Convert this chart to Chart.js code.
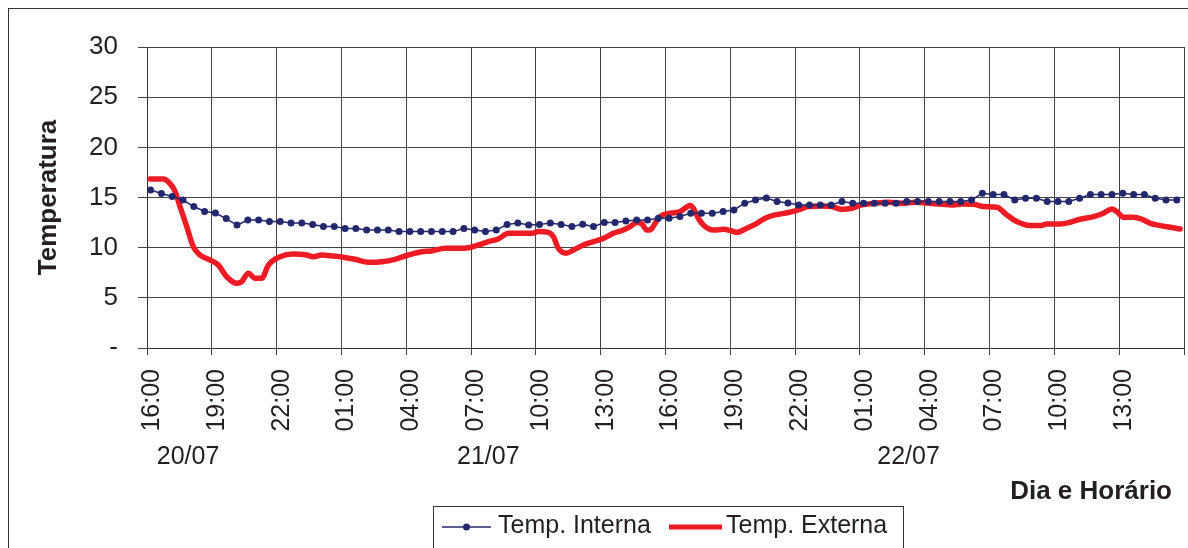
<!DOCTYPE html>
<html>
<head>
<meta charset="utf-8">
<script src="https://cdn.jsdelivr.net/npm/chart.js@4/dist/chart.umd.min.js"></script>
<style>
  html, body { margin: 0; padding: 0; background: #fff; }
  #wrap { width: 1188px; height: 548px; position: relative; }
</style>
</head>
<body>
<div id="wrap"><canvas id="chart"></canvas></div>
<script>
// Temperatura interna x externa, 20/07 16:00 ate 22/07 16:00 (horas desde o inicio)

var xTickLabels = ["16:00", "19:00", "22:00", "01:00", "04:00", "07:00", "10:00", "13:00",
  "16:00", "19:00", "22:00", "01:00", "04:00", "07:00", "10:00", "13:00", ""];
var dayLabels = ["20/07", "21/07", "22/07"];
var dayLabelHours = [1.9, 15.8, 35.25];
var yTickLabels = ["-", "5", "10", "15", "20", "25", "30"];

// leitura a cada 30 min, a partir de 16:10
var internaStart = 1 / 6;
var internaStep = 0.5;
var internaValues = [
  15.75, 15.4, 15.1, 14.75, 14.1, 13.6, 13.45, 12.9, 12.25, 12.75,
  12.75, 12.6, 12.6, 12.45, 12.45, 12.3, 12.1, 12.1, 11.9, 11.9,
  11.75, 11.75, 11.75, 11.6, 11.6, 11.6, 11.6, 11.6, 11.6, 11.9,
  11.75, 11.6, 11.75, 12.3, 12.45, 12.25, 12.3, 12.45, 12.3, 12.1,
  12.33, 12.1, 12.5, 12.5, 12.66, 12.76, 12.76, 12.93, 12.93, 13.1,
  13.43, 13.43, 13.43, 13.6, 13.76, 14.43, 14.76, 14.95, 14.6, 14.45,
  14.26, 14.26, 14.26, 14.26, 14.6, 14.43, 14.43, 14.43, 14.43, 14.43,
  14.6, 14.6, 14.6, 14.6, 14.6, 14.6, 14.76, 15.43, 15.3, 15.3,
  14.76, 14.93, 14.93, 14.6, 14.6, 14.6, 14.93, 15.3, 15.3, 15.3,
  15.43, 15.3, 15.3, 14.93, 14.76, 14.76
];

var externaHours = [
  0.14, 0.75, 1.06, 1.30, 1.53, 1.84, 2.14, 2.45, 2.92, 3.30,
  3.69, 4.15, 4.38, 4.69, 5.00, 5.31, 5.62, 6.16, 6.77, 7.39,
  7.70, 8.09, 8.63, 9.09, 9.63, 10.25, 10.87, 11.48, 12.10, 12.72,
  13.18, 13.80, 14.41, 14.88, 15.34, 15.80, 16.26, 16.73, 17.35, 17.81,
  18.12, 18.58, 18.81, 19.04, 19.40, 19.74, 20.20, 20.66, 21.13, 21.59,
  22.05, 22.36, 22.67, 22.90, 23.13, 23.29, 23.52, 23.75, 24.21, 24.68,
  25.14, 25.29, 25.52, 25.75, 26.22, 26.68, 27.07, 27.30, 27.76, 28.23,
  28.61, 29.07, 29.69, 30.15, 30.62, 31.24, 31.70, 32.16, 32.63, 33.09,
  33.70, 34.32, 34.94, 35.56, 36.17, 36.79, 37.25, 37.72, 38.26, 38.72,
  39.34, 39.80, 40.26, 40.88, 41.34, 41.65, 42.27, 42.73, 43.19, 43.81,
  44.27, 44.66, 44.89, 45.20, 45.66, 46.05, 46.44, 46.90, 47.36, 47.82
];
var externaValues = [
  16.85, 16.85, 16.4, 15.6, 14.1, 12.1, 10.1, 9.27, 8.77, 8.27,
  7.1, 6.45, 6.6, 7.45, 6.95, 6.95, 8.27, 9.1, 9.37, 9.27,
  9.1, 9.27, 9.17, 9.05, 8.84, 8.54, 8.6, 8.84, 9.27, 9.6,
  9.67, 9.94, 9.94, 10.0, 10.27, 10.6, 10.87, 11.43, 11.43, 11.43,
  11.6, 11.53, 11.1, 9.94, 9.44, 9.77, 10.27, 10.6, 10.93, 11.43,
  11.76, 12.1, 12.5, 12.4, 11.76, 11.76, 12.43, 13.1, 13.43, 13.6,
  14.2, 13.93, 12.93, 12.26, 11.76, 11.83, 11.66, 11.53, 11.93, 12.43,
  12.93, 13.26, 13.5, 13.76, 14.1, 14.16, 14.1, 13.83, 13.93, 14.26,
  14.43, 14.53, 14.43, 14.53, 14.43, 14.33, 14.26, 14.36, 14.33, 14.1,
  14.03, 13.26, 12.6, 12.2, 12.2, 12.36, 12.36, 12.53, 12.83, 13.1,
  13.43, 13.86, 13.6, 13.03, 13.03, 12.83, 12.43, 12.2, 12.03, 11.86
];

var colors = {
  ink: "#231F20",
  grid: "#444444",
  axis: "#333333",
  interna: "#23286E",
  externa: "#ED1C24",
};
var fontFamily = '"Liberation Sans", Arial, sans-serif';

var internaPoints = internaValues.map(function (v, i) {
  return { x: internaStart + i * internaStep, y: v };
});
var externaPoints = externaValues.map(function (v, i) {
  return { x: externaHours[i], y: v };
});

// textos extras: datas, titulo do eixo x, legenda com moldura, moldura externa
var extrasPlugin = {
  id: "extras",
  afterDraw: function (chart) {
    var ctx = chart.ctx;
    var xs = chart.scales.x;
    ctx.save();

    ctx.strokeStyle = colors.axis;
    ctx.lineWidth = 1;
    ctx.strokeRect(8.5, 8.5, 1200, 600);

    ctx.fillStyle = colors.ink;
    ctx.font = "25px " + fontFamily;
    ctx.textAlign = "center";
    ctx.textBaseline = "middle";
    dayLabels.forEach(function (d, i) {
      ctx.fillText(d, xs.getPixelForValue(dayLabelHours[i]), 457);
    });

    ctx.font = "bold 26px " + fontFamily;
    ctx.textAlign = "right";
    ctx.fillText("Dia e Horário", 1172, 492);

    // legenda
    ctx.strokeRect(433.5, 506.5, 470, 60);
    var ly = 527;
    ctx.strokeStyle = colors.interna;
    ctx.lineWidth = 1.5;
    ctx.beginPath();
    ctx.moveTo(442, ly);
    ctx.lineTo(491, ly);
    ctx.stroke();
    ctx.fillStyle = colors.interna;
    ctx.beginPath();
    ctx.arc(466.5, ly, 3.5, 0, Math.PI * 2);
    ctx.fill();

    ctx.strokeStyle = colors.externa;
    ctx.lineWidth = 5;
    ctx.beginPath();
    ctx.moveTo(669, ly);
    ctx.lineTo(722, ly);
    ctx.stroke();

    ctx.fillStyle = colors.ink;
    ctx.font = "25px " + fontFamily;
    ctx.textAlign = "left";
    ctx.fillText("Temp. Interna", 498, ly - 1);
    ctx.fillText("Temp. Externa", 726, ly - 1);

    ctx.restore();
  },
};

new Chart(document.getElementById("chart"), {
  type: "line",
  data: {
    datasets: [
      {
        label: "Temp. Interna",
        data: internaPoints,
        borderColor: colors.interna,
        backgroundColor: colors.interna,
        borderWidth: 1.5,
        pointRadius: 3.5,
        pointBorderWidth: 0,
        pointBackgroundColor: colors.interna,
        tension: 0,
      },
      {
        label: "Temp. Externa",
        data: externaPoints,
        borderColor: colors.externa,
        backgroundColor: colors.externa,
        borderWidth: 5.5,
        pointRadius: 0,
        cubicInterpolationMode: "monotone",
        borderCapStyle: "round",
        borderJoinStyle: "round",
      },
    ],
  },
  options: {
    responsive: true,
    maintainAspectRatio: false,
    animation: false,
    layout: { padding: { left: 10, top: 47, right: 4, bottom: 0 } },
    plugins: {
      legend: { display: false },
      tooltip: { enabled: false },
    },
    scales: {
      x: {
        type: "linear",
        min: 0,
        max: 48,
        afterFit: function (scale) {
          scale.height = 200;
          scale.paddingLeft = 0;
          scale.paddingRight = 0;
        },
        ticks: {
          stepSize: 3,
          autoSkip: false,
          maxRotation: 90,
          minRotation: 90,
          labelOffset: 5,
          padding: 14,
          color: colors.ink,
          font: { family: fontFamily, size: 25 },
          callback: function (v, i) { return xTickLabels[i]; },
        },
        grid: { color: colors.grid, lineWidth: 1, tickLength: 7 },
        border: { color: colors.axis },
      },
      y: {
        min: 0,
        max: 30,
        afterFit: function (scale) {
          scale.width = 137;
          scale.paddingTop = 0;
          scale.paddingBottom = 0;
        },
        ticks: {
          stepSize: 5,
          padding: 20,
          color: colors.ink,
          font: { family: fontFamily, size: 26 },
          callback: function (v, i) { return yTickLabels[i]; },
        },
        grid: { color: colors.grid, lineWidth: 1, tickLength: 9 },
        border: { color: colors.axis },
        title: {
          display: true,
          text: "Temperatura",
          color: colors.ink,
          font: { family: fontFamily, size: 26, weight: "bold" },
          padding: { top: 23, bottom: 0 },
        },
      },
    },
  },
  plugins: [extrasPlugin],
});
</script>
</body>
</html>
